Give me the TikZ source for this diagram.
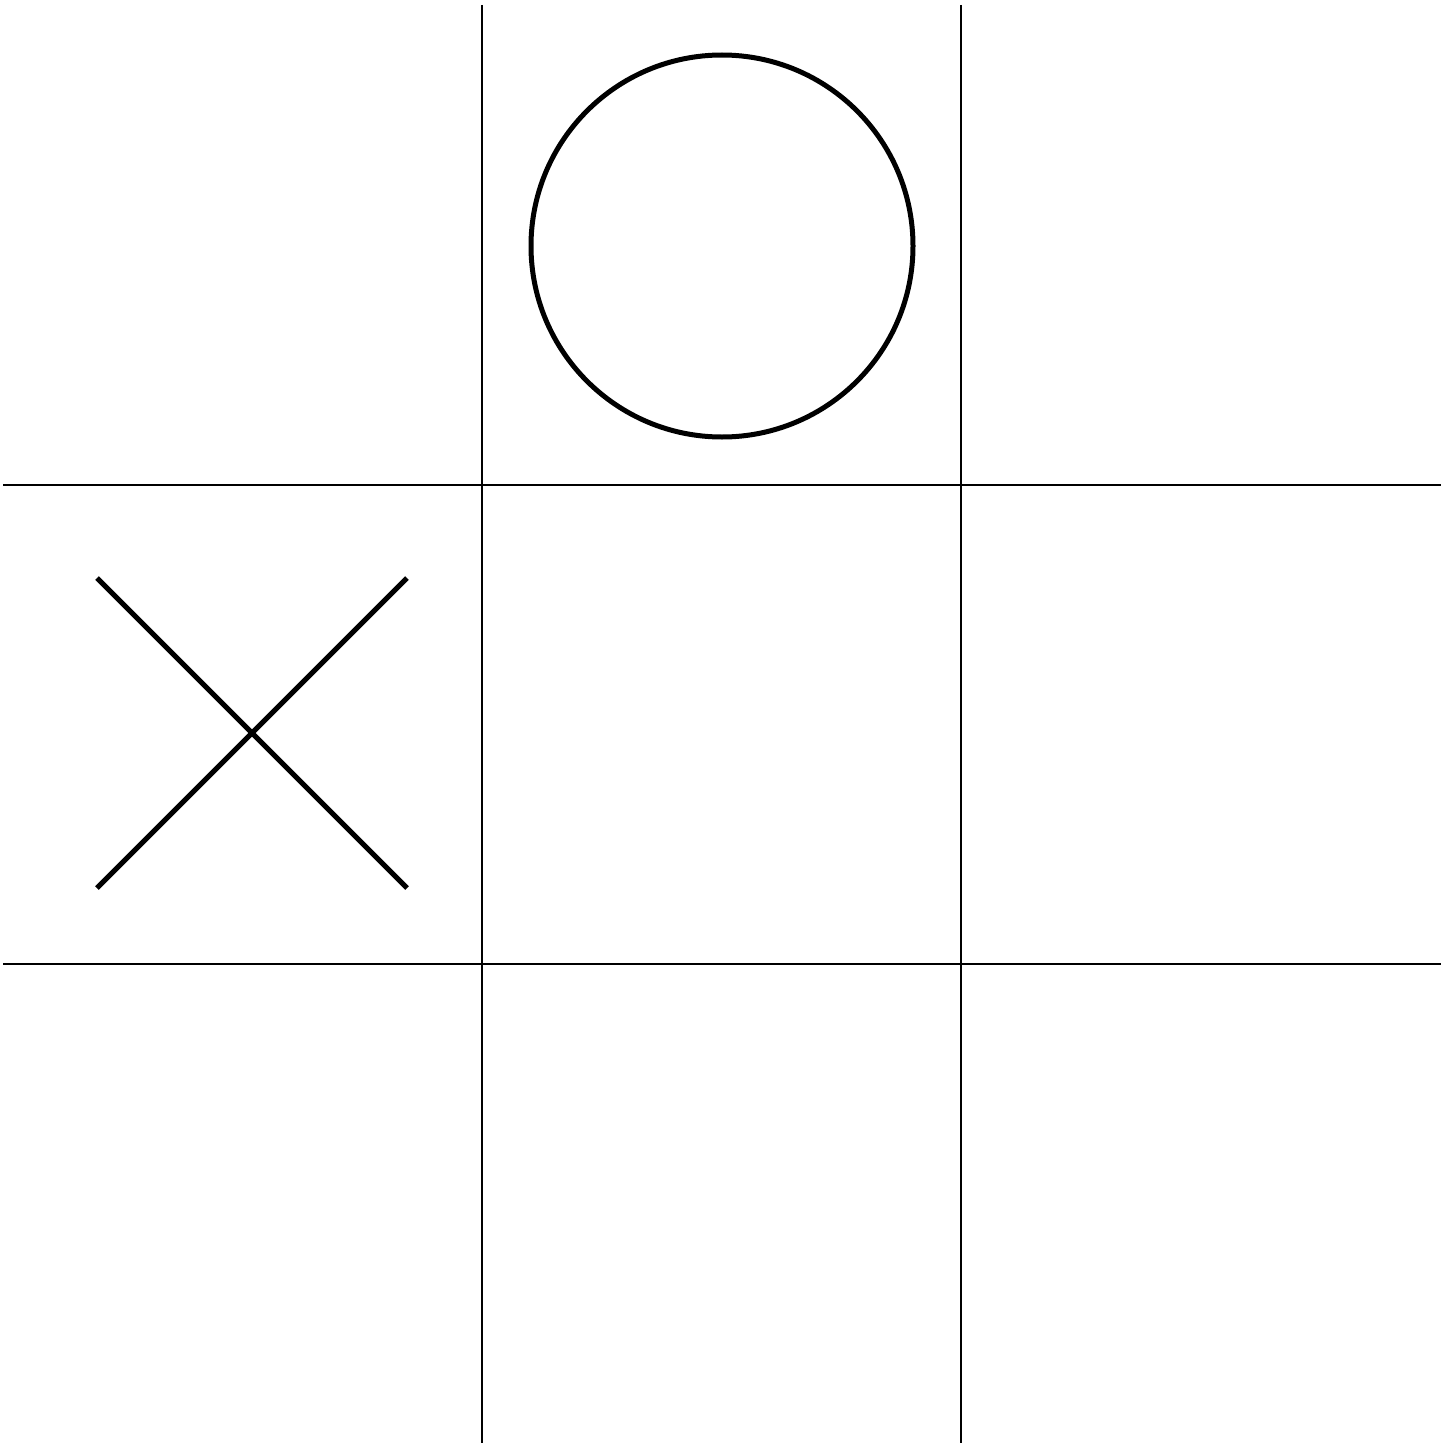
\documentclass[tikz,border=0pt]{standalone}
\begin{document}
\begin{tikzpicture}[x=1pt,y=-1pt,
  gridline/.style={line width=1.2pt,black},
  mark line/.style={line width=5pt,black}]
\useasboundingbox (0,0) rectangle (1454,1445);
% grid
\coordinate (v1t) at (482,5);   \coordinate (v1b) at (482,1443);
\coordinate (v2t) at (961,5);   \coordinate (v2b) at (961,1443);
\coordinate (h1l) at (3,485);   \coordinate (h1r) at (1441,485);
\coordinate (h2l) at (3,964);   \coordinate (h2r) at (1441,964);
\draw[gridline] (v1t) -- (v1b);
\draw[gridline] (v2t) -- (v2b);
\draw[gridline] (h1l) -- (h1r);
\draw[gridline] (h2l) -- (h2r);
% O
\coordinate (oc) at (722,246);
\draw[mark line] (oc) circle[radius=191];
% X
\coordinate (xa) at (97,578);  \coordinate (xb) at (407,888);
\coordinate (xc) at (407,578); \coordinate (xd) at (97,888);
\draw[mark line] (xa) -- (xb);
\draw[mark line] (xc) -- (xd);
\end{tikzpicture}
\end{document}
